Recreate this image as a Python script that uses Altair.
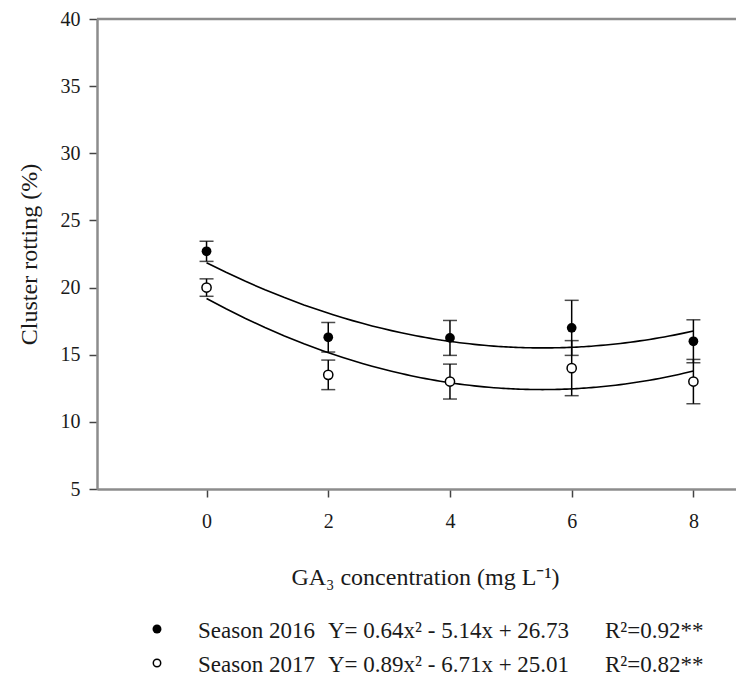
import altair as alt
import pandas as pd

# ---- data ----
doses = [0, 2, 4, 6, 8]
mean_2016 = [22.7, 16.3, 16.25, 17.0, 16.0]
err_2016 = [0.75, 1.1, 1.3, 2.05, 1.6]
mean_2017 = [20.0, 13.5, 13.0, 14.0, 13.0]
err_2017 = [0.65, 1.1, 1.3, 2.05, 1.65]

seasons = ["Season 2016", "Season 2017"]
equations = ["Y= 0.64x\u00b2 - 5.14x + 26.73", "Y= 0.89x\u00b2 - 6.71x + 25.01"]
r2_labels = ["R\u00b2=0.92**", "R\u00b2=0.82**"]

x_ticks = [0, 2, 4, 6, 8]
y_ticks = [5, 10, 15, 20, 25, 30, 35, 40]

x_title = "GA\u2083 concentration (mg L\u207b\u00b9)"
y_title = "Cluster rotting (%)"

# ---- tables ----
rows = []
for s, means, errs in [(seasons[0], mean_2016, err_2016), (seasons[1], mean_2017, err_2017)]:
    for d, m, e in zip(doses, means, errs):
        rows.append({"season": s, "x": d, "mean": m, "lo": m - e, "hi": m + e})
df = pd.DataFrame(rows)

legend_df = pd.DataFrame({"season": seasons, "eq": equations, "r2": r2_labels})

W, H = 639, 470
FONT = "Liberation Serif"
TXT = "#1a1a1a"
LFS = 23

xs = alt.Scale(domain=[-1.8, 8.7], nice=False, zero=False)
ys = alt.Scale(domain=[5, 40], nice=False, zero=False)

base = alt.Chart(df)

x_enc = alt.X("x:Q", scale=xs, axis=alt.Axis(values=x_ticks, format="d", title=x_title,
                                           labelPadding=14, titlePadding=34, titleX=328))
y_enc = alt.Y("mean:Q", scale=ys, axis=alt.Axis(values=y_ticks, format="d", title=y_title,
                                              labelPadding=9, titlePadding=19))

errbars = base.mark_errorbar(
    ticks={"size": 14, "thickness": 1.5, "color": "black"},
    color="black", thickness=1.5,
).encode(x=x_enc, y=alt.Y("lo:Q", scale=ys, title=y_title), y2="hi:Q")

curves = base.transform_regression(
    "x", "mean", method="poly", order=2, groupby=["season"]
).mark_line(color="black", strokeWidth=1.6).encode(
    x=alt.X("x:Q", scale=xs), y=alt.Y("mean:Q", scale=ys), detail="season:N"
)

pts_2016 = base.transform_filter(alt.datum.season == seasons[0]).mark_circle(
    color="black", size=95, opacity=1
).encode(x=x_enc, y=y_enc)

pts_2017 = base.transform_filter(alt.datum.season == seasons[1]).mark_circle(
    fill="white", stroke="black", strokeWidth=1.5, size=85, opacity=1
).encode(x=x_enc, y=y_enc)

top_line = alt.Chart(legend_df.head(1)).mark_rule(color="#8c8c8c", strokeWidth=2.5).encode(
    x=alt.value(0), x2=alt.value(W), y=alt.value(0)
)

# ---- legend below the plot ----
legend_layers = []
row_y = [610, 644]
for i, s in enumerate(seasons):
    ld = alt.Chart(legend_df).transform_filter(alt.datum.season == s)
    if i == 0:
        sym = ld.mark_circle(color="black", size=80, opacity=1)
    else:
        sym = ld.mark_circle(fill="white", stroke="black", strokeWidth=1.5, size=55, opacity=1)
    legend_layers.append(sym.encode(x=alt.value(60), y=alt.value(row_y[i])))
    for col, xpos in [("season", 101), ("eq", 231), ("r2", 508)]:
        legend_layers.append(
            ld.mark_text(align="left", baseline="middle", font=FONT, fontSize=LFS, color=TXT)
            .encode(x=alt.value(xpos), y=alt.value(row_y[i] + 2), text=f"{col}:N")
        )

chart = alt.layer(
    errbars, curves, pts_2016, pts_2017, top_line, *legend_layers
).properties(
    width=W, height=H,
    autosize=alt.AutoSizeParams(type="none"),
    padding={"left": 89, "top": 11, "right": 0, "bottom": 190},
).configure_view(stroke=None).configure_axis(
    grid=False,
    labelFont=FONT, labelFontSize=20, labelColor=TXT,
    titleFont=FONT, titleFontSize=24, titleFontWeight="normal", titleColor=TXT,
    domainColor="#8c8c8c", domainWidth=2.5,
    tickColor="#444", tickWidth=1.5, tickSize=8,
)

chart.save("out.html", embed_options={"renderer": "svg", "actions": False})
